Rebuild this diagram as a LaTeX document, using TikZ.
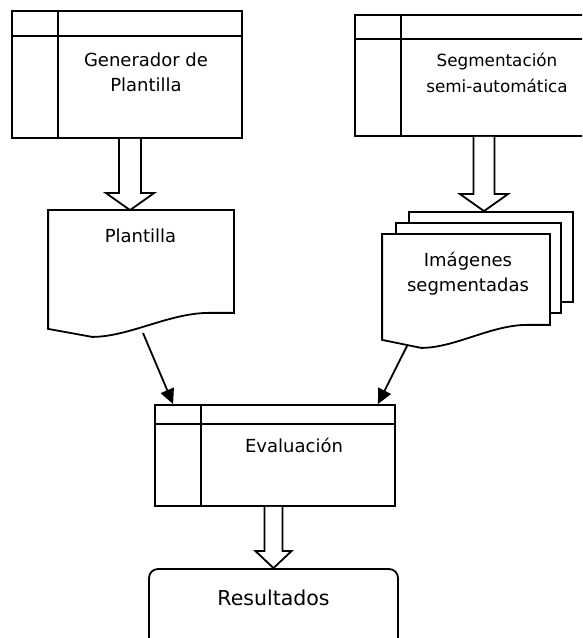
\documentclass[tikz,border=0pt]{standalone}
\usepackage{fontspec}
\setmainfont{DejaVu Sans}
\usetikzlibrary{arrows.meta,calc}

% block arrow: start, tip, half shaft, half head
\newcommand{\blockarrow}[4]{%
  \draw[fill=white, line join=miter] ($(#1)+(-#3,0)$) -- ($(#2)+(-#3,17)$) -- ($(#2)+(-#4,17)$)
    -- (#2) -- ($(#2)+(#4,17)$) -- ($(#2)+(#3,17)$) -- ($(#1)+(#3,0)$);
}

\begin{document}
\begin{tikzpicture}[x=1pt, y=1pt, line width=1.8pt,
    procbox/.style={draw, rectangle, inner sep=0pt, fill=white,
      path picture={
        \draw ([yshift=-#1]path picture bounding box.north west) -- ([yshift=-#1]path picture bounding box.north east);
        \draw ([xshift=46pt]path picture bounding box.north west) -- ([xshift=46pt]path picture bounding box.south west);
      }},
    procbox/.default=24pt,
    docrect/.style={draw, rectangle, inner sep=0pt, fill=white},
    docarea/.style={rectangle, inner sep=0pt},
    txt/.style={font=\fontsize{18pt}{25pt}\selectfont, align=center, inner sep=0pt, anchor=north},
    flow/.style={-{Triangle[length=15pt, width=14pt]}}]
  \useasboundingbox (0,0) rectangle (582,638);
  \clip (0,0) rectangle (582,638);

  % Draw the process boxes
  \node[procbox=25pt, minimum width=230pt, minimum height=127pt] (gen) at (127,563.5) {};
  \node[txt] (gentext) at (146,586.5) {Generador de\\Plantilla};

  \node[procbox, minimum width=240pt, minimum height=121pt] (seg) at (475,562.5) {};
  \node[txt, font=\fontsize{16.8pt}{26pt}\selectfont] (segtext) at (497,585.5) {Segmentación\\semi-automática};

  \node[procbox=19pt, minimum width=240pt, minimum height=101pt] (eval) at (275,182.5) {};
  \node[txt] (evaltext) at (294,200.5) {Evaluación};

  % Draw the result
  \node[draw, rectangle, rounded corners=9pt, minimum width=249pt, minimum height=81pt] (res) at (273.5,28.5) {};
  \node[txt, font=\fontsize{20.5pt}{25pt}\selectfont] (restext) at (273.5,48.6) {Resultados};

  % Draw the template document
  \node[docarea, minimum width=184pt, minimum height=101pt] (plant) at (141,376.5) {};
  \draw[fill=white] (plant.north west) -- (plant.north east) -- (plant.south east)
    -- ($(plant.south west)+(161,0)$)
    .. controls ($(plant.south west)+(121,0)$) and ($(plant.south west)+(81,-24)$) .. ($(plant.south west)+(44,-24)$)
    -- ($(plant.south west)+(0,-16)$) -- cycle;
  \node[txt] (planttext) at (140.5,410.5) {Plantilla};

  % Draw the stack of segmented images
  \node[docrect, minimum width=164pt, minimum height=90pt] (segback) at (491,381) {};
  \node[docrect, minimum width=165pt, minimum height=90pt] (segmid) at (478.5,370) {};
  \node[docarea, minimum width=166pt, minimum height=89pt] (imgs) at (466,358.5) {};
  \draw[fill=white] (imgs.north west) -- (imgs.north east) -- (imgs.south east)
    -- ($(imgs.south west)+(145,0)$)
    .. controls ($(imgs.south west)+(109,0)$) and ($(imgs.south west)+(73,-23)$) .. ($(imgs.south west)+(39,-23)$)
    -- ($(imgs.south west)+(0,-15)$) -- cycle;
  \node[txt] (imgstext) at (468,386.5) {Imágenes\\segmentadas};

  % Draw the block arrows
  \coordinate (a1s) at ([xshift=3pt]gen.south);
  \coordinate (a1t) at ([xshift=-11pt]plant.north);
  \blockarrow{a1s}{a1t}{11}{24}
  \coordinate (a2s) at ([xshift=9pt]seg.south);
  \coordinate (a2t) at ([xshift=-7pt]segback.north);
  \blockarrow{a2s}{a2t}{10.5}{24}
  \coordinate (a3s) at ([xshift=-1.5pt]eval.south);
  \coordinate (a3t) at (a3s |- res.north);
  \blockarrow{a3s}{a3t}{9}{18}

  % Draw the flow into the evaluation
  \coordinate (plantout) at (143,305);
  \coordinate (imgsout) at (407,292);
  \draw[flow] (plantout) -- ([xshift=19pt]eval.north west);
  \draw[flow] (imgsout) -- ([xshift=-18pt]eval.north east);
\end{tikzpicture}
\end{document}
